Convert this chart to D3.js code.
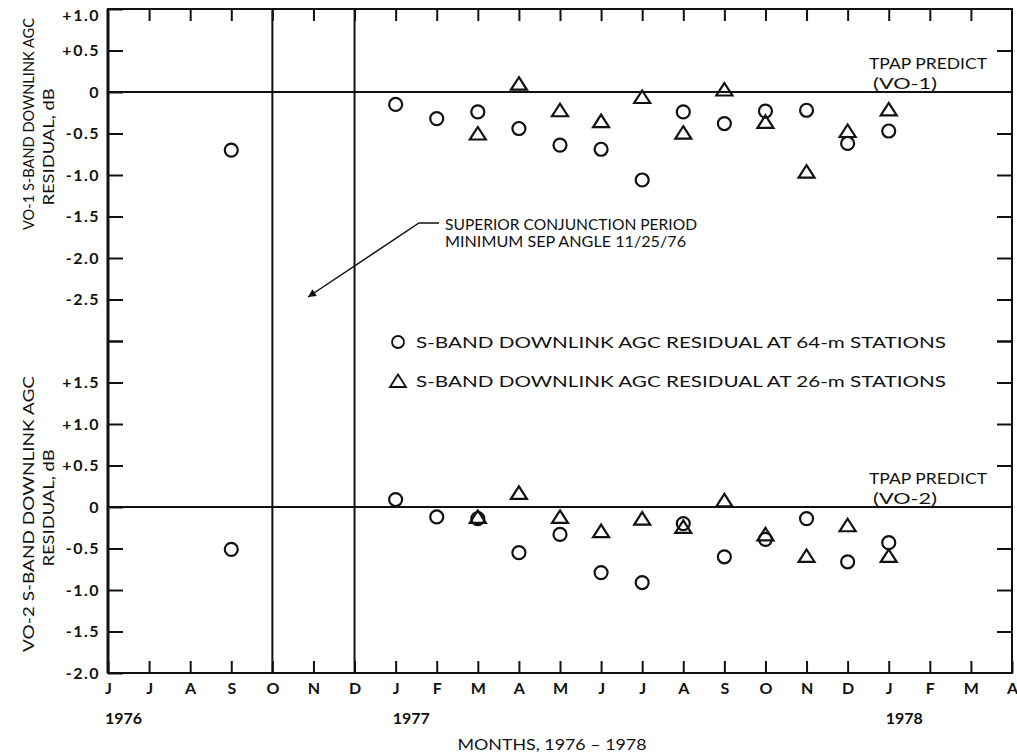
<!DOCTYPE html>
<html><head><meta charset="utf-8">
<script src="https://cdn.jsdelivr.net/npm/d3@7"></script>
<style>
body{margin:0;background:#fff}
svg text{font-family:'Lato','DejaVu Sans',sans-serif;fill:#111}
</style>
</head><body>
<svg id="c" width="1017" height="756"></svg>
<script>
// ---------- DATA ----------
const monthLabels = ["J","J","A","S","O","N","D","J","F","M","A","M","J","J","A","S","O","N","D","J","F","M","A"]; // Jun 1976 .. Apr 1978
const yearLabels = [{m:0,label:"1976"},{m:7,label:"1977"},{m:19,label:"1978"}];
const conjunctionMonths = [4,6]; // O and D 1976 boundaries
const vo1Ticks = [1,0.5,0,-0.5,-1,-1.5,-2,-2.5,-3];
const vo2Ticks = [2,1.5,1,0.5,0,-0.5,-1,-1.5,-2];
const vo1Unlabeled = [-3];
const vo2Unlabeled = [2];

const months64 = [3,7,8,9,10,11,12,13,14,15,16,17,18,19];
const vo1_64 = [-0.70,-0.15,-0.32,-0.24,-0.44,-0.64,-0.69,-1.06,-0.24,-0.38,-0.23,-0.22,-0.62,-0.47];
const vo2_64 = [-0.51,0.09,-0.12,-0.14,-0.55,-0.33,-0.79,-0.91,-0.20,-0.60,-0.39,-0.14,-0.66,-0.43];
const months26 = [9,10,11,12,13,14,15,16,17,18,19];
const vo1_26 = [-0.50,0.10,-0.22,-0.35,-0.06,-0.49,0.03,-0.36,-0.96,-0.47,-0.21];
const vo2_26 = [-0.12,0.17,-0.12,-0.29,-0.14,-0.24,0.08,-0.33,-0.59,-0.22,-0.59];

const legendItems = [
  {shape:"circle", label:"S-BAND DOWNLINK AGC RESIDUAL AT 64-m STATIONS"},
  {shape:"triangle", label:"S-BAND DOWNLINK AGC RESIDUAL AT 26-m STATIONS"}
];

// ---------- LAYOUT ----------
const L=108, R=1012, T=9, B=673, MID=341;
const svg = d3.select("#c");
const x = d3.scaleLinear().domain([0, monthLabels.length-1]).range([L,R]);
const yTop = d3.scaleLinear().domain([-3,1]).range([MID,T]);
const yBot = d3.scaleLinear().domain([-2,2]).range([B,MID]);
const fmt = d => d===0 ? "0" : (d>0?"+":"-") + Math.abs(d).toFixed(1);
const ink = "#111";

// zero lines
[[yTop,0],[yBot,0]].forEach(([s,v])=>{
  svg.append("line").attr("x1",L).attr("x2",R).attr("y1",s(v)).attr("y2",s(v))
    .attr("stroke",ink).attr("stroke-width",2);
});

// conjunction period vertical lines
svg.selectAll(".conj").data(conjunctionMonths).join("line")
  .attr("x1",d=>x(d)).attr("x2",d=>x(d)).attr("y1",T).attr("y2",B)
  .attr("stroke",ink).attr("stroke-width",2);

// left axes
function leftAxis(scale, ticks, unl){
  const g = svg.append("g").attr("transform",`translate(${L},0)`)
    .call(d3.axisLeft(scale).tickValues(ticks).tickSizeInner(-15).tickSizeOuter(0).tickPadding(8)
      .tickFormat(d=> unl.includes(d) ? "" : fmt(d)));
  g.select(".domain").remove();
  g.selectAll(".tick line").attr("stroke",ink).attr("stroke-width",2);
  g.selectAll(".tick text").attr("font-size",16).attr("font-weight","bold").attr("letter-spacing",1.5).attr("fill",ink);
  return g;
}
const gTop = leftAxis(yTop, vo1Ticks, vo1Unlabeled);
gTop.selectAll(".tick text").filter(d=>d===1).attr("dy","0.72em");
leftAxis(yBot, vo2Ticks, vo2Unlabeled);

// right axes
function rightAxis(scale, ticks){
  const g = svg.append("g").attr("transform",`translate(${R},0)`)
    .call(d3.axisRight(scale).tickValues(ticks).tickSizeInner(-15).tickSizeOuter(0).tickFormat(""));
  g.select(".domain").remove();
  g.selectAll(".tick line").attr("stroke",ink).attr("stroke-width",2);
}
rightAxis(yTop, vo1Ticks.filter(d=>d!==1 && d!==0));
rightAxis(yBot, vo2Ticks.filter(d=>d!==0 && d!==-2));

// bottom axis
const monthIdx = d3.range(monthLabels.length);
const gx = svg.append("g").attr("transform",`translate(0,${B})`)
  .call(d3.axisBottom(x).tickValues(monthIdx).tickSizeInner(-12).tickSizeOuter(0).tickPadding(10)
    .tickFormat(i=>monthLabels[i]));
gx.select(".domain").remove();
gx.selectAll(".tick line").attr("stroke",ink).attr("stroke-width",2);
gx.selectAll(".tick text").attr("font-size",16).attr("font-weight","bold").attr("fill",ink);

// top axis (ticks only)
const gxt = svg.append("g").attr("transform",`translate(0,${T})`)
  .call(d3.axisTop(x).tickValues(monthIdx.slice(1,-1)).tickSizeInner(-12).tickSizeOuter(0).tickFormat(""));
gxt.select(".domain").remove();
gxt.selectAll(".tick line").attr("stroke",ink).attr("stroke-width",2);

// frame
svg.append("rect").attr("x",L).attr("y",T).attr("width",R-L).attr("height",B-T)
  .attr("fill","none").attr("stroke",ink).attr("stroke-width",2);
svg.append("line").attr("x1",L).attr("x2",L).attr("y1",T).attr("y2",B).attr("stroke",ink).attr("stroke-width",3);

// year labels
svg.selectAll(".yr").data(yearLabels).join("text")
  .attr("x",d=>x(d.m)-3).attr("y",724).attr("font-size",16).attr("font-weight","bold").text(d=>d.label);

// axis title
svg.append("text").attr("x",552).attr("y",750).attr("text-anchor","middle").attr("font-size",16)
  .attr("textLength",189).attr("lengthAdjust","spacingAndGlyphs").text("MONTHS, 1976 \u2013 1978");

// y titles
function yTitle(lines){
  lines.forEach(l=>{
    svg.append("text").attr("transform",`translate(${l.x},${l.cy}) rotate(-90)`)
      .attr("text-anchor","middle").attr("font-size",l.fs).attr("textLength",l.len).attr("lengthAdjust","spacingAndGlyphs").text(l.t);
  });
}
yTitle([{x:34,cy:124,len:212,fs:14.5,t:"VO-1 S-BAND DOWNLINK AGC"},{x:54,cy:147,len:117,fs:16,t:"RESIDUAL, dB"}]);
yTitle([{x:34,cy:514,len:276,fs:16,t:"VO-2 S-BAND DOWNLINK AGC"},{x:54,cy:508,len:117,fs:16,t:"RESIDUAL, dB"}]);

// markers
const triPath = "M0,-6.5L8,6L-8,6Z";
function circles(vals, ys){
  svg.append("g").selectAll("circle").data(vals.map((v,i)=>({m:months64[i],v}))).join("circle")
    .attr("cx",d=>x(d.m)).attr("cy",d=>ys(d.v)).attr("r",6.5)
    .attr("fill","none").attr("stroke",ink).attr("stroke-width",2.2);
}
function tris(vals, ys){
  svg.append("g").selectAll("path").data(vals.map((v,i)=>({m:months26[i],v}))).join("path")
    .attr("d",triPath).attr("transform",d=>`translate(${x(d.m)},${ys(d.v)})`)
    .attr("fill","none").attr("stroke",ink).attr("stroke-width",2.2).attr("stroke-linejoin","miter");
}
circles(vo1_64, yTop); tris(vo1_26, yTop);
circles(vo2_64, yBot); tris(vo2_26, yBot);

// TPAP labels
[[yTop,"(VO-1)"],[yBot,"(VO-2)"]].forEach(([s,t])=>{
  const z = s(0);
  svg.append("text").attr("x",869).attr("y",z-23).attr("font-size",16).attr("textLength",118).attr("lengthAdjust","spacingAndGlyphs").text("TPAP PREDICT");
  svg.append("text").attr("x",873).attr("y",z-3).attr("font-size",16).attr("textLength",64).attr("lengthAdjust","spacingAndGlyphs").text(t);
});

// annotation
svg.append("text").attr("x",445).attr("y",230).attr("font-size",16).attr("textLength",252).attr("lengthAdjust","spacingAndGlyphs").text("SUPERIOR CONJUNCTION PERIOD");
svg.append("text").attr("x",445).attr("y",247).attr("font-size",16).attr("textLength",241).attr("lengthAdjust","spacingAndGlyphs").text("MINIMUM SEP ANGLE 11/25/76");
svg.append("defs").append("marker").attr("id","ah").attr("viewBox","0 0 10 10").attr("refX",10).attr("refY",5)
  .attr("markerWidth",12).attr("markerHeight",8).attr("markerUnits","userSpaceOnUse").attr("orient","auto")
  .append("path").attr("d","M0,0L10,5L0,10Z").attr("fill",ink);
svg.append("path").attr("d","M439,223L419,223L308,297").attr("fill","none").attr("stroke",ink).attr("stroke-width",1.5).attr("marker-end","url(#ah)");

// legend
const lg = svg.append("g");
legendItems.forEach((it,i)=>{
  const cy = 342 + i*39;
  if(it.shape==="circle") lg.append("circle").attr("cx",398).attr("cy",cy).attr("r",6).attr("fill","none").attr("stroke",ink).attr("stroke-width",1.8);
  else lg.append("path").attr("d",triPath).attr("transform",`translate(398,${cy})`).attr("fill","none").attr("stroke",ink).attr("stroke-width",1.8);
  lg.append("text").attr("x",416).attr("y",cy+6).attr("font-size",16).attr("textLength",530).attr("lengthAdjust","spacingAndGlyphs").text(it.label);
});
</script>
</body></html>
